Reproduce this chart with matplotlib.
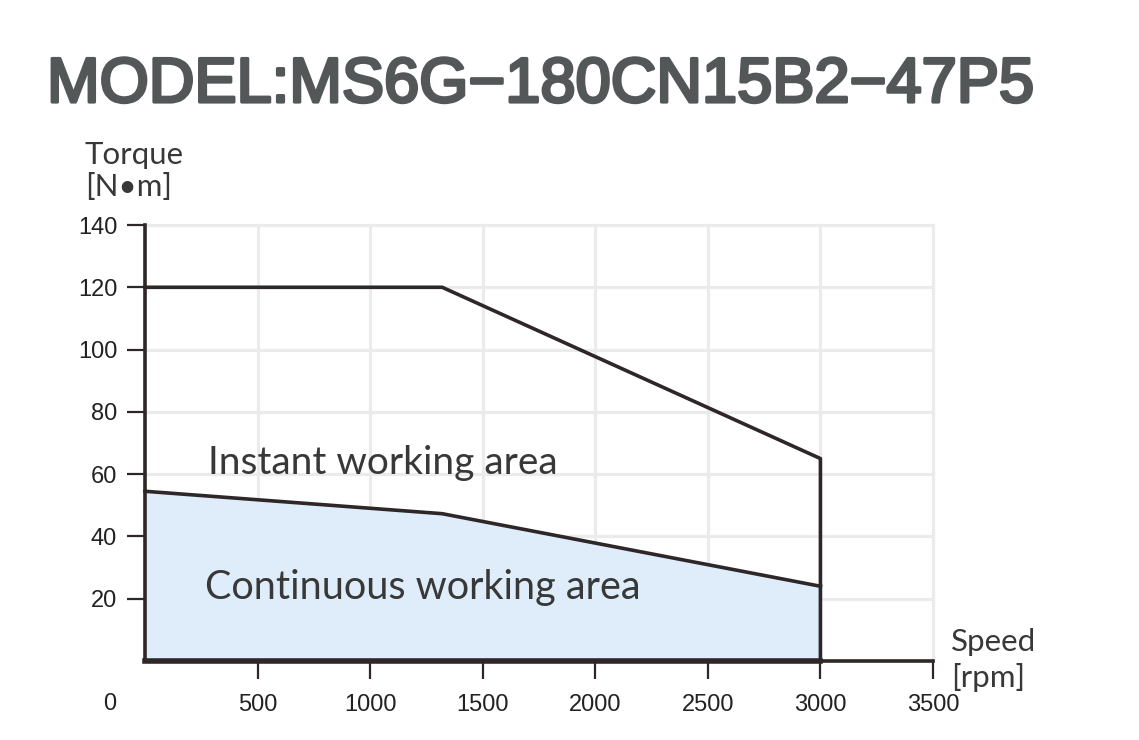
import numpy as np
import matplotlib.pyplot as plt
import matplotlib.patheffects as pe

# speed [rpm] / torque [N*m]
inst_speed = [0, 1320, 3000, 3000]
inst_torque = [120, 120, 65, 0]
cont_speed = [0, 1320, 3000]
cont_torque = [54.5, 47.3, 24]
x_ticks = [500, 1000, 1500, 2000, 2500, 3000, 3500]
y_ticks = [20, 40, 60, 80, 100, 120, 140]
title = "MODEL:MS6G\u2212180CN15B2\u221247P5"

line_col = '#2e2627'
fill_col = '#deedf9'
grid_col = '#ebebeb'

fig = plt.figure(figsize=(11.39, 7.40), dpi=100)
ax = fig.add_axes([145/1139, 79/740, 788/1139, 436/740])

#grid first so everything else sits on top
ax.set_xlim(0, 3500)
ax.set_ylim(0, 140)
ax.set_xticks(x_ticks)
ax.set_yticks(y_ticks)
ax.grid(True, color=grid_col, linewidth=2.3, zorder=0)
for gl in ax.get_xgridlines() + ax.get_ygridlines():
    gl.set_clip_on(False)
ax.set_axisbelow(True)

#continuous area (filled)
ax.fill_between(cont_speed, cont_torque, 0, color=fill_col, linewidth=0, zorder=1)
ax.plot(cont_speed, cont_torque, color=line_col, linewidth=2.6, zorder=3, clip_on=False)
#instant area outline
ax.plot(inst_speed, inst_torque, color=line_col, linewidth=2.6, zorder=3, clip_on=False)
#bottom edge under the filled region is a bit heavier
ax.plot([0, 3000], [0, 0], color=line_col, linewidth=4.0, zorder=4, clip_on=False)

for s in ['top', 'right']:
    ax.spines[s].set_visible(False)
for s in ['left', 'bottom']:
    ax.spines[s].set_color(line_col)
    ax.spines[s].set_linewidth(2.6)
    ax.spines[s].set_zorder(5)

ax.tick_params(axis='both', direction='out', length=13, width=1.6, color=line_col,
               labelsize=17, labelcolor='#222222')
ax.tick_params(axis='x', pad=11)
ax.tick_params(axis='y', pad=7)
for lab in ax.get_xticklabels() + ax.get_yticklabels():
    lab.set_family('Liberation Sans')

#lone zero under the corner
ax.annotate('0', xy=(0, 0), xytext=(-35, -43), textcoords='offset pixels',
            ha='center', va='center', fontsize=17, color='#222222', family='Liberation Sans')

label_font = dict(family=['Lato', 'Open Sans', 'DejaVu Sans'], fontweight='normal', color='#383838')
ax.text(280, 63.5, 'Instant working area', fontsize=28, ha='left', va='center', **label_font)
ax.text(265, 23.5, 'Continuous working area', fontsize=28.5, ha='left', va='center', **label_font)

fig.text(85/1139, 1 - 155/740, 'Torque', fontsize=22.5, ha='left', va='center', **label_font)
fig.text(85/1139, 1 - 187/740, '[N\u2022m]', fontsize=22.5, ha='left', va='center', **label_font)
fig.text(951/1139, 1 - 642/740, 'Speed', fontsize=22.5, ha='left', va='center', **label_font)
fig.text(951/1139, 1 - 677/740, '[rpm]', fontsize=22.5, ha='left', va='center', **label_font)

fig.text(47/1139, 1 - 102/740, title, fontsize=45.5, ha='left', va='baseline',
         family='Liberation Sans', color='#535758',
         path_effects=[pe.withStroke(linewidth=2.3, foreground='#535758')])

fig.savefig('out.png', dpi=100)
